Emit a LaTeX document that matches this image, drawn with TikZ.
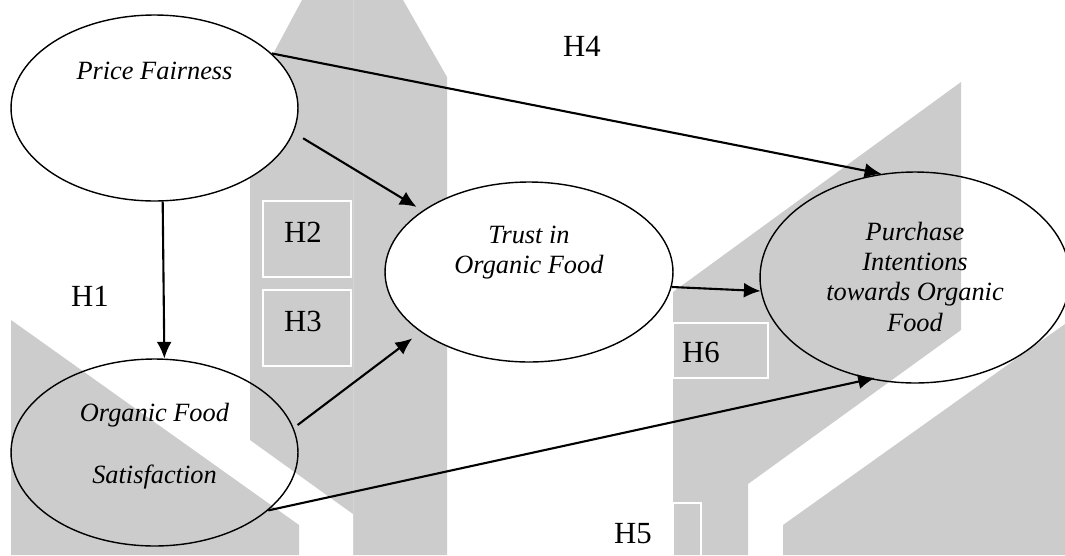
\documentclass[tikz,border=0pt]{standalone}
\usepackage{fontspec}
\setmainfont{Liberation Serif}
\usepackage{xcolor}
\usepackage{tikz}
\usetikzlibrary{shapes.geometric,arrows.meta}
\definecolor{markgray}{HTML}{CCCCCC}
\newcommand{\elltext}[2]{\raisebox{#1}[0pt][0pt]{\begin{tabular}{@{}c@{}}#2\end{tabular}}}
\tikzset{
  construct/.style={ellipse,draw,line width=0.8pt,inner sep=0pt,font=\fontsize{15}{17.3}\selectfont\itshape},
  hyp/.style={font=\fontsize{17.5}{20}\selectfont,inner sep=0pt},
  hypbox/.style={draw=white,line width=0.6pt},
  hyparrow/.style={-{Latex[length=9.5pt,width=8.5pt]},line width=1.2pt}
}

\begin{document}
\begin{tikzpicture}[x=0.02cm,y=-0.02cm]
\useasboundingbox (0,0) rectangle (1065,555);
\fill[white] (0,0) rectangle (1065,555);
\clip (0,0) rectangle (1065,555);

\fill[markgray] (302,0) -- (403,0) -- (447,77) -- (447,555) -- (353,555) -- (353,514) -- (250,440) -- (250,97) -- cycle;
\draw[markgray!85!white,line width=0.3pt] (353,0) -- (353,555);
\fill[markgray] (11,320) -- (299,525) -- (299,555) -- (11,555) -- cycle;
\fill[markgray] (673,292) -- (961,82) -- (961,330) -- (748,484) -- (748,555) -- (673,555) -- cycle;
\fill[markgray] (783,525) -- (1065,324) -- (1065,555) -- (783,555) -- cycle;

\draw[hypbox] (263,201) rectangle (351,277);
\draw[hypbox] (263,290) rectangle (351,366);
\draw[hypbox] (673,323) rectangle (768,378);
\draw[hypbox] (673,503) rectangle (701,560);

\node[construct,fill=white,minimum width=5.74cm,minimum height=3.72cm] (pf) at (154.5,108) {\elltext{16.3pt}{Price Fairness}};
\node[construct,minimum width=5.74cm,minimum height=3.74cm] (ofs) at (154.5,452.5) {\elltext{0pt}{Organic Food\\[18pt]Satisfaction}};
\node[construct,fill=white,minimum width=5.76cm,minimum height=3.6cm] (trust) at (529,272) {\elltext{7.5pt}{Trust in\\Organic Food}};
\node[construct,minimum width=6.2cm,minimum height=4.22cm] (pc) at (915,277.5) {\elltext{-4.8pt}{Purchase\\Intentions\\towards Organic\\Food}};

\node[hyp] (h1) at (90,296) {H1};
\node[hyp] (h2) at (303,232) {H2};
\node[hyp] (h3) at (303,321) {H3};
\node[hyp] (h4) at (582,46) {H4};
\node[hyp] (h5) at (633,534) {H5};
\node[hyp] (h6) at (701,352) {H6};

\draw[hyparrow] (pf.-85) -- (ofs.84);
\draw[hyparrow,shorten <=6.3pt,shorten >=4pt] (pf.-10.3) -- (trust.150);
\draw[hyparrow] (pf.25.8) -- (pc.108.2);
\draw[hyparrow,shorten <=2.8pt,shorten >=6pt] (ofs.10.8) -- (trust.209.6);
\draw[hyparrow,shorten >=-3pt] (ofs.-27.4) -- (pc.246.2);
\draw[hyparrow] (trust.-6.4) -- (pc.185.4);
\end{tikzpicture}
\end{document}
